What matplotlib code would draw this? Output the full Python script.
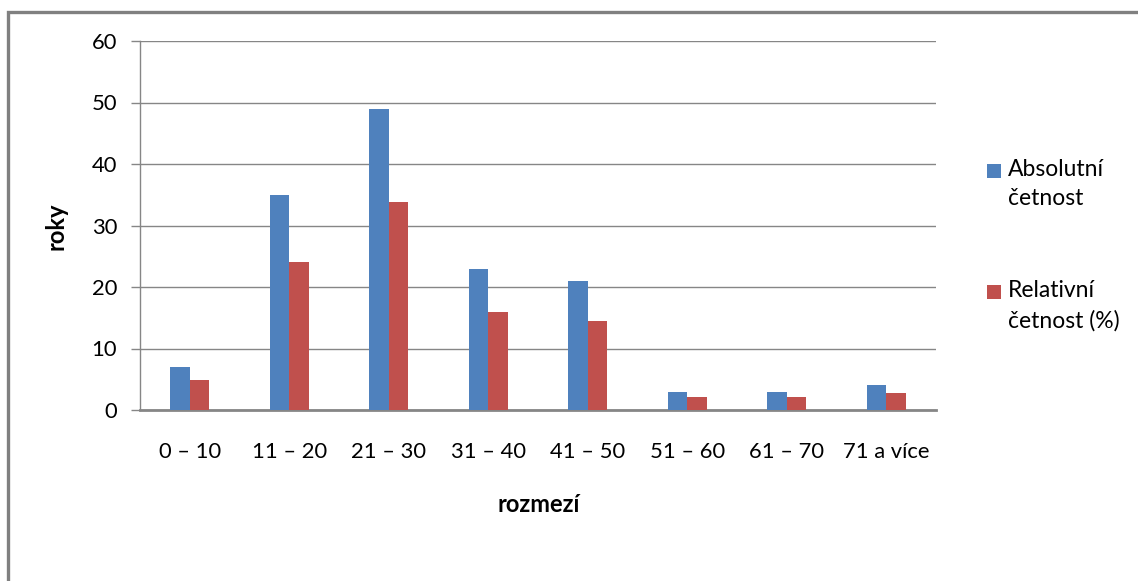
import matplotlib
matplotlib.use("Agg")
import matplotlib.pyplot as plt
from matplotlib.patches import Rectangle
import numpy as np

categories = ["0 – 10", "11 – 20", "21 – 30", "31 – 40", "41 – 50", "51 – 60", "61 – 70", "71 a více"]
absolutni = [7, 35, 49, 23, 21, 3, 3, 4]
relativni = [4.83, 24.14, 33.79, 15.86, 14.48, 2.07, 2.07, 2.76]
series_names = ["Absolutní\nčetnost", "Relativní\nčetnost (%)"]
series_colors = ["#4F81BD", "#C0504D"]
y_ticks = [0, 10, 20, 30, 40, 50, 60]

W, H = 1138, 581
DPI = 100
plt.rcParams["font.family"] = ["Lato", "DejaVu Sans"]

fig = plt.figure(figsize=(W / DPI, H / DPI), dpi=DPI)
fig.patch.set_facecolor("white")

# outer chart frame (runs off the right and bottom edges)
fig.patches.append(Rectangle((8 / W, -0.05), 1.2, (H - 12) / H + 0.05,
                             transform=fig.transFigure, fill=False,
                             edgecolor="#808080", linewidth=2.4, zorder=0))

left, right, top, bottom = 140, 936, 41, 410
ax = fig.add_axes([left / W, 1 - bottom / H, (right - left) / W, (bottom - top) / H])

x = np.arange(len(categories))
bw = 0.196
ax.bar(x - bw / 2, absolutni, width=bw, color=series_colors[0], zorder=3)
ax.bar(x + bw / 2, relativni, width=bw, color=series_colors[1], zorder=3)

ax.set_xlim(-0.5, len(categories) - 0.5)
ax.set_ylim(0, 60)
ax.set_yticks(y_ticks)
ax.set_xticks(x)
ax.set_xticklabels(categories)
ax.tick_params(axis="x", length=0, pad=23, labelsize=15.8)
ax.tick_params(axis="y", length=6.5, width=1, color="#868686", pad=10, labelsize=15.8)

ax.yaxis.grid(True, color="#868686", linewidth=1.0, zorder=0)
ax.set_axisbelow(True)
for s in ["top", "right"]:
    ax.spines[s].set_visible(False)
ax.spines["left"].set_color("#868686")
ax.spines["left"].set_linewidth(1.0)
ax.spines["bottom"].set_color("#868686")
ax.spines["bottom"].set_linewidth(2.0)

fig.text(56 / W, 1 - 226 / H, "roky", rotation=90, ha="center", va="center",
         fontsize=17, fontweight="bold")
fig.text(539 / W, 1 - 505 / H, "rozmezí", ha="center", va="center",
         fontsize=17, fontweight="bold")

# legend: square swatch next to the first line of each label
legend_rows = [(164, series_names[0], series_colors[0]),
               (285, series_names[1], series_colors[1])]
for ytop, label, color in legend_rows:
    fig.patches.append(Rectangle((987 / W, 1 - (ytop + 14) / H), 14 / W, 14 / H,
                                 transform=fig.transFigure, facecolor=color,
                                 edgecolor="none"))
    fig.text(1008 / W, 1 - (ytop - 5) / H, label, ha="left", va="top",
             fontsize=16.5, linespacing=1.5)

fig.savefig("out.png", dpi=DPI, facecolor="white")
